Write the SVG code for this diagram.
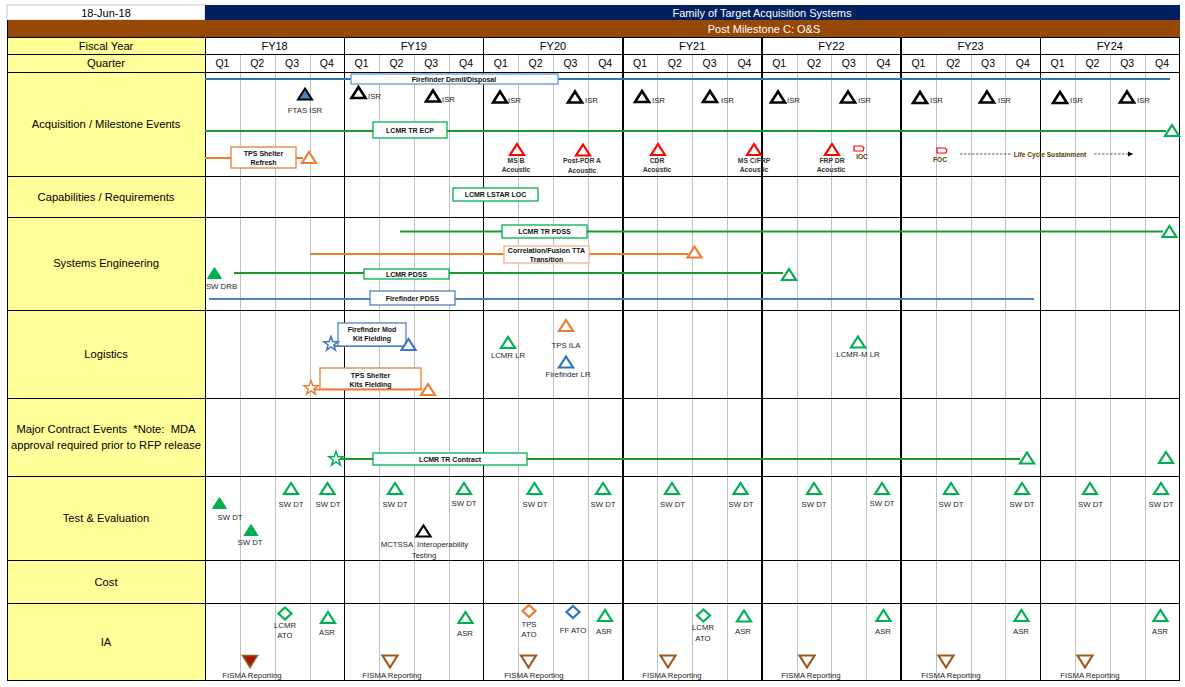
<svg xmlns="http://www.w3.org/2000/svg" width="1185" height="687" viewBox="0 0 1185 687">
<style>
text{font-family:'Liberation Sans',Arial,sans-serif;white-space:pre}
.h{font-size:11px;fill:#000;text-anchor:middle}
.hw{font-size:11px;fill:#fff;text-anchor:middle}
.q{font-size:10.5px;fill:#000;text-anchor:middle}
.rl{font-size:11.2px;fill:#000;text-anchor:middle}
.s{font-size:7.8px;fill:#262626;text-anchor:middle}
.st{font-size:7.8px;fill:#262626}
.sb{font-size:7px;font-weight:bold;fill:#111;text-anchor:middle}
.rb{font-size:6.8px;font-weight:bold;fill:#333;text-anchor:middle}
.lc{font-size:6.6px;font-weight:bold;fill:#5a3a00;text-anchor:middle}
.qg{stroke:#BFBFBF;stroke-width:1}
.gl{stroke:#000;stroke-width:1}
.gt{stroke:#000;stroke-width:2}
.ln{fill:none;stroke-width:2.2}
.bx{fill:#fff;stroke-width:1.3}
.mk{fill:#fff;stroke-width:2.2;stroke-linejoin:miter}
.mkk{fill:#fff;stroke:#000;stroke-width:2.6;stroke-linejoin:miter}
.k{stroke:#000}
.g{stroke:#00B050}
.o{stroke:#ED7D31}
.b{stroke:#2E75B6}
.r{stroke:#FF0000}
.br{stroke:#9C5B1F}
</style>
<defs>
<path id="tri" d="M0,-5.5 L7,5.5 L-7,5.5 Z"/>
<path id="triD" d="M0,6 L-7.5,-6 L7.5,-6 Z"/>
<path id="dia" d="M0,-6 L6.5,0 L0,6 L-6.5,0 Z"/>
<path id="star" d="M0,-7.5 L1.76,-2.43 L7.13,-2.32 L2.85,0.93 L4.41,6.07 L0,3 L-4.41,6.07 L-2.85,0.93 L-7.13,-2.32 L-1.76,-2.43 Z"/>
<path id="flag" d="M-5,-2.5 L3,-2.5 L5,-0.5 L4,2.5 L-5,2.5 Z"/>
<marker id="ah" markerUnits="userSpaceOnUse" markerWidth="6" markerHeight="6" refX="5" refY="3" orient="auto"><path d="M0,0.5 L5,3 L0,5.5 Z" fill="#000"/></marker>
</defs>

<rect x="0" y="0" width="1185" height="687" fill="#fff"/>

<g id="grid">
<rect x="7" y="37" width="198" height="643" fill="#FFFF99"/>
<rect x="7" y="5" width="198" height="15" fill="#fff" stroke="#C8C8C8" stroke-width="1"/>
<rect x="205" y="5" width="975" height="15" fill="#002060"/>
<rect x="7" y="20" width="1173" height="17" fill="#974806"/>
<g class="qg">
<line x1="240.5" y1="54" x2="240.5" y2="680"/><line x1="275.5" y1="54" x2="275.5" y2="680"/><line x1="310.5" y1="54" x2="310.5" y2="680"/>
<line x1="379.5" y1="54" x2="379.5" y2="680"/><line x1="414.5" y1="54" x2="414.5" y2="680"/><line x1="449.5" y1="54" x2="449.5" y2="680"/>
<line x1="518.5" y1="54" x2="518.5" y2="680"/><line x1="553.5" y1="54" x2="553.5" y2="680"/><line x1="588.5" y1="54" x2="588.5" y2="680"/>
<line x1="657.5" y1="54" x2="657.5" y2="680"/><line x1="692.5" y1="54" x2="692.5" y2="680"/><line x1="727.5" y1="54" x2="727.5" y2="680"/>
<line x1="797.5" y1="54" x2="797.5" y2="680"/><line x1="831.5" y1="54" x2="831.5" y2="680"/><line x1="866.5" y1="54" x2="866.5" y2="680"/>
<line x1="936.5" y1="54" x2="936.5" y2="680"/><line x1="971.5" y1="54" x2="971.5" y2="680"/><line x1="1005.5" y1="54" x2="1005.5" y2="680"/>
<line x1="1075.5" y1="54" x2="1075.5" y2="680"/><line x1="1110.5" y1="54" x2="1110.5" y2="680"/><line x1="1145.5" y1="54" x2="1145.5" y2="680"/>
</g>
<g class="gl">
<line x1="7" y1="37.5" x2="1180" y2="37.5"/>
<line x1="7" y1="54.5" x2="1180" y2="54.5"/>
<line x1="7" y1="72.5" x2="1180" y2="72.5"/>
<line x1="7" y1="176.5" x2="1180" y2="176.5"/>
<line x1="7" y1="217.5" x2="1180" y2="217.5"/>
<line x1="7" y1="310.5" x2="1180" y2="310.5"/>
<line x1="7" y1="398.5" x2="1180" y2="398.5"/>
<line x1="7" y1="476.5" x2="1180" y2="476.5"/>
<line x1="7" y1="560.5" x2="1180" y2="560.5"/>
<line x1="7" y1="603.5" x2="1180" y2="603.5"/>
<line x1="7" y1="680.5" x2="1180" y2="680.5"/>
<line x1="7.5" y1="20" x2="7.5" y2="681"/>
<line x1="205.5" y1="37" x2="205.5" y2="681"/>
<line x1="344.5" y1="37" x2="344.5" y2="681"/>
<line x1="483.5" y1="37" x2="483.5" y2="681"/>
<line x1="1040.5" y1="37" x2="1040.5" y2="681"/>
<line x1="1179.5" y1="37" x2="1179.5" y2="681"/>
</g>
<g class="gt">
<line x1="623" y1="37" x2="623" y2="681"/>
<line x1="762" y1="37" x2="762" y2="681"/>
<line x1="901" y1="37" x2="901" y2="681"/>
</g>
</g>

<g id="header">
<text class="h" x="106" y="16.5">18-Jun-18</text>
<text class="hw" x="762" y="16.5">Family of Target Acquisition Systems</text>
<text class="hw" x="764" y="33">Post Milestone C: O&amp;S</text>
<text class="rl" x="106" y="50">Fiscal Year</text>
<text class="rl" x="106" y="67">Quarter</text>
<text class="h" x="274.6" y="50">FY18</text><text class="h" x="413.8" y="50">FY19</text><text class="h" x="553" y="50">FY20</text><text class="h" x="692.2" y="50">FY21</text><text class="h" x="831.4" y="50">FY22</text><text class="h" x="970.6" y="50">FY23</text><text class="h" x="1109.8" y="50">FY24</text>
<text class="q" x="222.4" y="67">Q1</text><text class="q" x="257.2" y="67">Q2</text><text class="q" x="292" y="67">Q3</text><text class="q" x="326.8" y="67">Q4</text>
<text class="q" x="361.6" y="67">Q1</text><text class="q" x="396.4" y="67">Q2</text><text class="q" x="431.2" y="67">Q3</text><text class="q" x="466" y="67">Q4</text>
<text class="q" x="500.8" y="67">Q1</text><text class="q" x="535.6" y="67">Q2</text><text class="q" x="570.4" y="67">Q3</text><text class="q" x="605.2" y="67">Q4</text>
<text class="q" x="640" y="67">Q1</text><text class="q" x="674.8" y="67">Q2</text><text class="q" x="709.6" y="67">Q3</text><text class="q" x="744.4" y="67">Q4</text>
<text class="q" x="779.2" y="67">Q1</text><text class="q" x="814" y="67">Q2</text><text class="q" x="848.8" y="67">Q3</text><text class="q" x="883.6" y="67">Q4</text>
<text class="q" x="918.4" y="67">Q1</text><text class="q" x="953.2" y="67">Q2</text><text class="q" x="988" y="67">Q3</text><text class="q" x="1022.8" y="67">Q4</text>
<text class="q" x="1057.6" y="67">Q1</text><text class="q" x="1092.4" y="67">Q2</text><text class="q" x="1127.2" y="67">Q3</text><text class="q" x="1162" y="67">Q4</text>
<text class="rl" x="106" y="128">Acquisition / Milestone Events</text>
<text class="rl" x="106" y="201">Capabilities / Requirements</text>
<text class="rl" x="106" y="267">Systems Engineering</text>
<text class="rl" x="106" y="358">Logistics</text>
<text class="rl" x="106" y="433">Major Contract Events  *Note:  MDA</text>
<text class="rl" x="106" y="449">approval required prior to RFP release</text>
<text class="rl" x="106" y="522">Test &amp; Evaluation</text>
<text class="rl" x="106" y="586">Cost</text>
<text class="rl" x="106" y="646">IA</text>
</g>

<g id="connectors">
<path class="ln" d="M205,79 H1170" stroke="#2E75B6"/>
<path class="ln" d="M205,131 H1166" stroke="#1A9A2E"/>
<path class="ln" d="M205,158 H303" stroke="#ED7D31"/>
<path d="M960,154 H1012" stroke="#333" stroke-width="0.8" stroke-dasharray="2.5,1.5" fill="none"/>
<path d="M1094,154 H1133" stroke="#333" stroke-width="0.8" stroke-dasharray="2.5,1.5" fill="none" marker-end="url(#ah)"/>
<path class="ln" d="M400,231.5 H1163" stroke="#1A9A2E"/>
<path class="ln" d="M310,254 H688" stroke="#ED7D31"/>
<path class="ln" d="M234,273 H783" stroke="#1A9A2E"/>
<path class="ln" d="M209,299 H1034" stroke="#4F81BD"/>
<path class="ln" d="M331,346 H402" stroke="#4F81BD"/>
<path class="ln" d="M311,389.5 H422" stroke="#ED7D31"/>
<path class="ln" d="M336,459 H1020" stroke="#1A9A2E"/>
</g>

<g id="acq-firefinder-demil">
<rect class="bx" x="351" y="74" width="207" height="10" stroke="#5B9BD5"/>
<text class="sb" x="454" y="81.8">Firefinder Demil/Disposal</text>
</g>
<g id="acq-ftas-isr">
<use href="#tri" x="305" y="94" fill="#4F81BD" stroke="#000" stroke-width="2"/>
<text class="s" x="305" y="112.5">FTAS ISR</text>
</g>
<g id="acq-isr">
<use href="#tri" class="mkk" x="358.5" y="92.5"/><text class="st" x="368" y="99">ISR</text>
<use href="#tri" class="mkk" x="433" y="96"/><text class="st" x="442" y="102">ISR</text>
<use href="#tri" class="mkk" x="500" y="97"/><text class="st" x="508" y="102.5">ISR</text>
<use href="#tri" class="mkk" x="575" y="97"/><text class="st" x="585" y="102.5">ISR</text>
<use href="#tri" class="mkk" x="642" y="96.5"/><text class="st" x="652" y="102.5">ISR</text>
<use href="#tri" class="mkk" x="710" y="96.5"/><text class="st" x="721" y="102.5">ISR</text>
<use href="#tri" class="mkk" x="778" y="97"/><text class="st" x="787" y="102.5">ISR</text>
<use href="#tri" class="mkk" x="848" y="97"/><text class="st" x="858" y="102.5">ISR</text>
<use href="#tri" class="mkk" x="920" y="97.5"/><text class="st" x="930" y="103">ISR</text>
<use href="#tri" class="mkk" x="987" y="97"/><text class="st" x="998" y="103">ISR</text>
<use href="#tri" class="mkk" x="1060" y="97.5"/><text class="st" x="1070" y="103">ISR</text>
<use href="#tri" class="mkk" x="1127" y="97"/><text class="st" x="1137" y="103">ISR</text>
</g>
<g id="acq-lcmr-tr-ecp">
<rect class="bx" x="373" y="122" width="74" height="16" stroke="#00B050"/>
<text class="sb" x="410" y="132.5">LCMR TR ECP</text>
<use href="#tri" class="mk g" x="1172" y="130.5"/>
</g>
<g id="acq-tps-shelter-refresh">
<rect class="bx" x="231" y="147" width="65" height="21" stroke="#ED7D31"/>
<text class="sb" x="263.5" y="155.5">TPS Shelter</text>
<text class="sb" x="263.5" y="164.5">Refresh</text>
<use href="#tri" class="mk o" x="309" y="157.5"/>
</g>
<g id="acq-ms-b">
<use href="#tri" class="mk r" x="517" y="149.5"/>
<text class="rb" x="516" y="163">MS B</text><text class="rb" x="516" y="172">Acoustic</text>
</g>
<g id="acq-post-pdr">
<use href="#tri" class="mk r" x="583" y="150"/>
<text class="rb" x="582" y="163">Post-PDR A</text><text class="rb" x="582" y="173">Acoustic</text>
</g>
<g id="acq-cdr">
<use href="#tri" class="mk r" x="658" y="149.5"/>
<text class="rb" x="657" y="163">CDR</text><text class="rb" x="657" y="172">Acoustic</text>
</g>
<g id="acq-ms-c">
<use href="#tri" class="mk r" x="754" y="149.5"/>
<text class="rb" x="754" y="163">MS C/FRP</text><text class="rb" x="754" y="172">Acoustic</text>
</g>
<g id="acq-frp-dr">
<use href="#tri" class="mk r" x="832" y="149.5"/>
<text class="rb" x="832" y="163">FRP DR</text><text class="rb" x="831" y="172">Acoustic</text>
</g>
<g id="acq-ioc">
<use href="#flag" x="859" y="148.5" fill="#fff" stroke="#FF0000" stroke-width="1.2"/>
<text class="lc" x="862" y="159">IOC</text>
</g>
<g id="acq-foc">
<use href="#flag" x="942" y="150.5" fill="#fff" stroke="#FF0000" stroke-width="1.2"/>
<text class="lc" x="940" y="162">FOC</text>
</g>
<g id="acq-life-cycle">
<text class="lc" x="1050" y="156.5">Life Cycle Sustainment</text>
</g>

<g id="cap-lstar-loc">
<rect class="bx" x="453" y="188" width="85" height="13" stroke="#00B050"/>
<text class="sb" x="495.5" y="197">LCMR LSTAR LOC</text>
</g>

<g id="se-lcmr-tr-pdss">
<rect class="bx" x="502" y="225" width="85" height="13" stroke="#00B050"/>
<text class="sb" x="544.5" y="234">LCMR TR PDSS</text>
<use href="#tri" class="mk g" x="1169.5" y="231.5"/>
</g>
<g id="se-correlation">
<rect class="bx" x="504" y="246" width="85" height="17" stroke="#F4B183"/>
<text class="sb" x="546.5" y="252.5">Correlation/Fusion TTA</text>
<text class="sb" x="546.5" y="261.5">Transition</text>
<use href="#tri" class="mk o" x="694.5" y="252"/>
</g>
<g id="se-lcmr-pdss">
<use href="#tri" x="214.5" y="273" fill="#00B050" stroke="#00B050" stroke-width="1"/>
<text class="s" x="221.5" y="288.5">SW DRB</text>
<rect class="bx" x="364" y="269" width="85" height="10" stroke="#00B050"/>
<text class="sb" x="406.5" y="276.5">LCMR PDSS</text>
<use href="#tri" class="mk g" x="789" y="274.5"/>
</g>
<g id="se-firefinder-pdss">
<rect class="bx" x="370" y="291" width="85" height="14" stroke="#4F81BD"/>
<text class="sb" x="412.5" y="300.5">Firefinder PDSS</text>
</g>

<g id="log-firefinder-mod">
<rect class="bx" x="338" y="323" width="68" height="23" stroke="#4F81BD"/>
<text class="sb" x="372" y="331.5">Firefinder Mod</text>
<text class="sb" x="372" y="340.5">Kit Fielding</text>
<use href="#star" x="331" y="344" fill="#fff" stroke="#4472C4" stroke-width="1.5"/>
<use href="#tri" class="mk" x="408.5" y="344.5" stroke="#4472C4"/>
</g>
<g id="log-tps-kits">
<rect class="bx" x="320" y="368" width="101" height="21" stroke="#ED7D31"/>
<text class="sb" x="370.5" y="378">TPS Shelter</text>
<text class="sb" x="370.5" y="387.3">Kits Fielding</text>
<use href="#star" x="311" y="388" fill="#fff" stroke="#ED7D31" stroke-width="1.5"/>
<use href="#tri" class="mk o" x="428" y="389.5"/>
</g>
<g id="log-lcmr-lr">
<use href="#tri" class="mk g" x="508" y="342.5"/>
<text class="s" x="508" y="357.5">LCMR LR</text>
</g>
<g id="log-tps-ila">
<use href="#tri" class="mk o" x="566" y="325.5"/>
<text class="s" x="566" y="347.5">TPS ILA</text>
</g>
<g id="log-firefinder-lr">
<use href="#tri" class="mk b" x="566" y="362"/>
<text class="s" x="568" y="376.5">Firefinder LR</text>
</g>
<g id="log-lcmr-m-lr">
<use href="#tri" class="mk g" x="858" y="342"/>
<text class="s" x="858" y="356.5">LCMR-M LR</text>
</g>

<g id="mce-lcmr-tr-contract">
<use href="#star" x="336" y="459" fill="#fff" stroke="#00B050" stroke-width="1.5"/>
<rect class="bx" x="373" y="453" width="154" height="12" stroke="#00B050"/>
<text class="sb" x="450" y="461.5">LCMR TR Contract</text>
<use href="#tri" class="mk g" x="1027" y="458"/>
</g>
<g id="mce-end">
<use href="#tri" class="mk g" x="1166" y="457.5"/>
</g>

<g id="te-sw-dt">
<use href="#tri" x="219.5" y="503" fill="#00B050" stroke="#00B050" stroke-width="1"/>
<text class="s" x="230" y="519.5">SW DT</text>
<use href="#tri" x="251" y="530" fill="#00B050" stroke="#00B050" stroke-width="1"/>
<text class="s" x="250" y="545">SW DT</text>
<use href="#tri" class="mk g" x="291" y="488.5"/><text class="s" x="291" y="506.5">SW DT</text>
<use href="#tri" class="mk g" x="327.5" y="488.5"/><text class="s" x="328" y="506.5">SW DT</text>
<use href="#tri" class="mk g" x="395" y="488.5"/><text class="s" x="395" y="506.5">SW DT</text>
<use href="#tri" class="mk g" x="464" y="488.5"/><text class="s" x="464" y="505.5">SW DT</text>
<use href="#tri" class="mk g" x="534.5" y="488.5"/><text class="s" x="535" y="506.5">SW DT</text>
<use href="#tri" class="mk g" x="603" y="488.5"/><text class="s" x="603" y="506.5">SW DT</text>
<use href="#tri" class="mk g" x="672" y="488.5"/><text class="s" x="672.5" y="506.5">SW DT</text>
<use href="#tri" class="mk g" x="740.5" y="488.5"/><text class="s" x="741" y="506.5">SW DT</text>
<use href="#tri" class="mk g" x="814" y="488.5"/><text class="s" x="814" y="506.5">SW DT</text>
<use href="#tri" class="mk g" x="882" y="488.5"/><text class="s" x="882" y="505.5">SW DT</text>
<use href="#tri" class="mk g" x="951" y="488.5"/><text class="s" x="951" y="506.5">SW DT</text>
<use href="#tri" class="mk g" x="1022" y="488.5"/><text class="s" x="1022" y="506.5">SW DT</text>
<use href="#tri" class="mk g" x="1090" y="488.5"/><text class="s" x="1090.5" y="506.5">SW DT</text>
<use href="#tri" class="mk g" x="1161" y="488.5"/><text class="s" x="1161" y="506.5">SW DT</text>
</g>
<g id="te-mctssa">
<use href="#tri" class="mk k" x="423.5" y="531"/>
<text class="s" x="424.5" y="547">MCTSSA  Interoperability</text>
<text class="s" x="424" y="557.5">Testing</text>
</g>

<g id="ia-ato">
<use href="#dia" class="mk g" x="285" y="613.5"/>
<text class="s" x="285" y="627.5">LCMR</text><text class="s" x="285" y="637.5">ATO</text>
<use href="#dia" class="mk o" x="529" y="611"/>
<text class="s" x="529" y="626.5">TPS</text><text class="s" x="529" y="636.5">ATO</text>
<use href="#dia" class="mk b" x="573" y="612"/>
<text class="s" x="573" y="632.5">FF ATO</text>
<use href="#dia" class="mk g" x="703.5" y="615.5"/>
<text class="s" x="703" y="630">LCMR</text><text class="s" x="703" y="640.5">ATO</text>
</g>
<g id="ia-asr">
<use href="#tri" class="mk g" x="328" y="617.5"/><text class="s" x="327" y="634.5">ASR</text>
<use href="#tri" class="mk g" x="465.5" y="617.5"/><text class="s" x="465" y="635.5">ASR</text>
<use href="#tri" class="mk g" x="605" y="615.5"/><text class="s" x="604" y="633.5">ASR</text>
<use href="#tri" class="mk g" x="744" y="616"/><text class="s" x="743" y="633.5">ASR</text>
<use href="#tri" class="mk g" x="883.5" y="615.5"/><text class="s" x="883" y="633.5">ASR</text>
<use href="#tri" class="mk g" x="1021.5" y="615.5"/><text class="s" x="1021" y="633.5">ASR</text>
<use href="#tri" class="mk g" x="1160.5" y="615.5"/><text class="s" x="1160" y="633.5">ASR</text>
</g>
<g id="ia-fisma">
<use href="#triD" x="250" y="661.5" fill="#A01800" stroke="#9C5B1F" stroke-width="1.5"/>
<text class="s" x="252" y="677.5">FISMA Reporting</text>
<use href="#triD" class="mk br" x="390" y="661.5"/><text class="s" x="392" y="677.5">FISMA Reporting</text>
<use href="#triD" class="mk br" x="528.5" y="661.5"/><text class="s" x="534" y="677.5">FISMA Reporting</text>
<use href="#triD" class="mk br" x="668" y="661.5"/><text class="s" x="672" y="677.5">FISMA Reporting</text>
<use href="#triD" class="mk br" x="807" y="661.5"/><text class="s" x="811" y="677.5">FISMA Reporting</text>
<use href="#triD" class="mk br" x="946" y="661.5"/><text class="s" x="951" y="677.5">FISMA Reporting</text>
<use href="#triD" class="mk br" x="1085" y="661.5"/><text class="s" x="1090" y="677.5">FISMA Reporting</text>
</g>
</svg>
